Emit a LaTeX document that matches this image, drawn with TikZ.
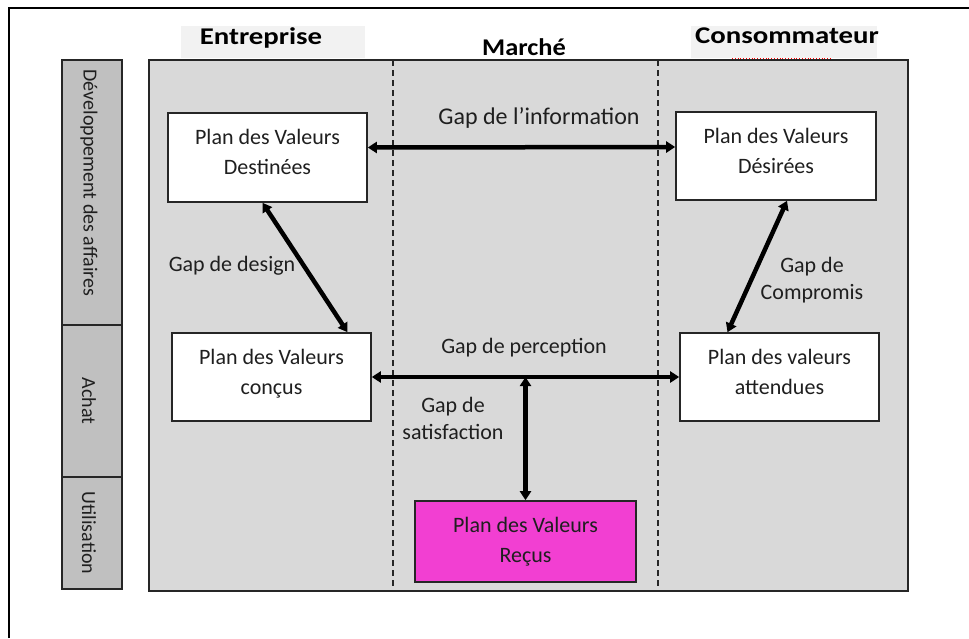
\documentclass[tikz,border=0pt]{standalone}
\usepackage{fontspec}
\setmainfont{Carlito}
\usetikzlibrary{arrows.meta}
\definecolor{maingray}{HTML}{D9D9D9}
\definecolor{sidegray}{HTML}{C0C0C0}
\definecolor{headgray}{HTML}{F2F2F2}
\definecolor{edge}{HTML}{262626}
\definecolor{txt}{HTML}{1F1F1F}
\definecolor{magentabox}{HTML}{F23FD2}
\newcommand{\vallines}[3]{\rule{0pt}{17pt}#1\\#2\rule[-#3]{0pt}{#3}}
\tikzset{
  valbox/.style={draw=edge, line width=1.6pt, fill=white, align=center, inner sep=0pt,
    text=txt, font=\fontsize{22}{30}\selectfont, minimum width=199pt, minimum height=88pt},
  sidebox/.style={draw=edge, line width=1.6pt, fill=sidegray, inner sep=0pt, minimum width=60pt},
  sidetext/.style={rotate=-90, text=txt, font=\fontsize{20}{24}\selectfont},
  headbox/.style={fill=headgray, inner sep=0pt, minimum width=184pt, minimum height=32pt},
  headtext/.style={font=\bfseries\fontsize{24}{30}\selectfont, text=black},
  gaplabel/.style={align=center, text=txt, font=\fontsize{22}{27}\selectfont},
  gaparrow/.style={line width=4.5pt, {Triangle[length=9pt,width=11pt]}-{Triangle[length=9pt,width=11pt]}},
  divider/.style={line width=1.5pt, dash pattern=on 6pt off 4pt, draw=edge},
}
\begin{document}
\begin{tikzpicture}[x=1pt,y=-1pt]
\useasboundingbox (0,0) rectangle (969,638);
% partial frame
\draw[line width=1.2pt] (9,638) -- (9,8) -- (969,8);
% headers
\node[headbox] (hE) at (273,42) {};
\node[headtext, anchor=base] (tE) at (261,44) {\scalebox{1.2}[1]{Entreprise}};
\node[headbox, minimum width=186pt] (hC) at (784,42) {};
\node[headtext, anchor=base] (tC) at (787,43) {\scalebox{1.2}[1]{Consommateur}};
\node[headtext, anchor=base] (tM) at (524,55) {\scalebox{1.1}[1]{Marché}};
\draw[red, line width=0.8pt, dotted] (732,58) -- (832,58);
% main area
\draw[edge, line width=1.8pt, fill=maingray] (149,60) rectangle (908,591);
\coordinate (d1t) at (393,60); \coordinate (d1b) at (393,591);
\coordinate (d2t) at (658,60); \coordinate (d2b) at (658,591);
\draw[divider] (d1t) -- (d1b);
\draw[divider] (d2t) -- (d2b);
% side column
\node[sidebox, minimum height=265pt] (s1) at (92,192.5) {};
\node[sidebox, minimum height=152pt] (s2) at (92,401) {};
\node[sidebox, minimum height=112pt] (s3) at (92,533) {};
\node[sidetext] (t1) at (89,183) {Développement des affaires};
\node[sidetext] (t2) at (89,401) {Achat};
\node[sidetext] (t3) at (89,533) {Utilisation};
% value boxes
\node[valbox, minimum height=89pt] (dest) at (267.5,157.5) {\vallines{Plan des Valeurs}{Destinées}{13pt}};
\node[valbox, minimum width=200pt] (desi) at (776,156) {\vallines{Plan des Valeurs}{Désirées}{13pt}};
\node[valbox] (conc) at (271.5,377) {\vallines{Plan des Valeurs}{conçus}{13pt}};
\node[valbox] (att) at (779.5,377) {\vallines{Plan des valeurs}{attendues}{13pt}};
\node[valbox, fill=magentabox, minimum width=221pt, minimum height=81pt] (rec) at (525.5,541.5) {\vallines{Plan des Valeurs}{Reçus}{6pt}};
% arrows
\draw[gaparrow] ([yshift=10pt]dest.east) -- ([yshift=9pt]desi.west);
\draw[gaparrow] (conc.east) -- (att.west);
\draw[gaparrow] ([xshift=-5pt]dest.south) -- ([xshift=76pt]conc.north);
\draw[gaparrow] ([xshift=11pt]desi.south) -- ([xshift=-52pt]att.north);
\draw[gaparrow] (rec.north |- conc.east) -- (rec.north);
% labels
\node[gaplabel, font=\fontsize{24}{29}\selectfont] (l1) at (539,118) {Gap de l’information};
\node[gaplabel] (l2) at (232,266) {Gap de design};
\node[gaplabel] (l3) at (812,280) {Gap de\\Compromis};
\node[gaplabel] (l4) at (524,348) {Gap de perception};
\node[gaplabel] (l5) at (453,418) {Gap de\\satisfaction};
\end{tikzpicture}
\end{document}
